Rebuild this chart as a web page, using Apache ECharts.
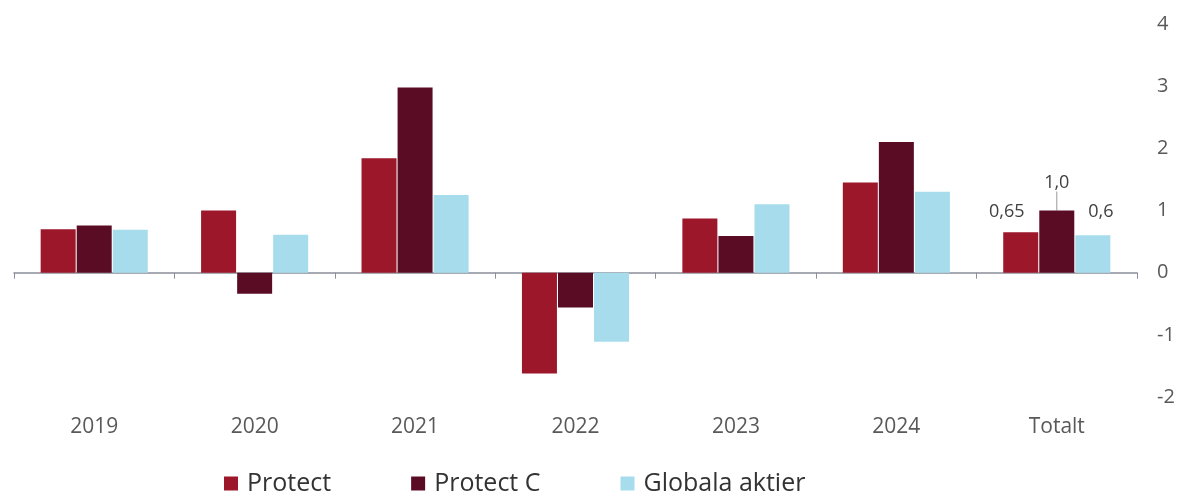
<!DOCTYPE html>
<html>
<head>
<meta charset="utf-8">
<script src="https://cdn.jsdelivr.net/npm/echarts@6/dist/echarts.min.js"></script>
<style>
  html, body { margin: 0; padding: 0; background: #fff; }
  #main { width: 1182px; height: 492px; }
</style>
</head>
<body>
<div id="main"></div>
<script>
// data
const categories = ['2019', '2020', '2021', '2022', '2023', '2024', 'Totalt']
const protect = [0.70, 1.0, 1.84, -1.62, 0.87, 1.45, 0.65]
const protectC = [0.76, -0.34, 2.98, -0.56, 0.59, 2.10, 1.0]
const globala = [0.69, 0.61, 1.25, -1.11, 1.10, 1.30, 0.6]
const totalLabels = ['0,65', '1,0', '0,6']
const yTicks = [-2, -1, 0, 1, 2, 3, 4]

const colors = ['#9b1729', '#5b0c25', '#a6dcec']
const labelColor = '#595959'
const font = '"Open Sans", "Noto Sans", sans-serif'

// only the Totalt column carries value labels
const withTotalLabel = (values, text, labelOpts) =>
  values.map((v, i) =>
    i === values.length - 1
      ? { value: v, label: Object.assign({ show: true, formatter: text }, labelOpts) }
      : v
  )

const barLabel = {
  position: 'top',
  color: '#404040',
  fontSize: 18,
  fontFamily: font
}

const chart = echarts.init(document.getElementById('main'))
const option = {
  backgroundColor: '#fff',
  animation: false,
  color: colors,
  grid: {
    left: 14,
    right: 45,
    top: 24,
    bottom: 95
  },
  legend: {
    left: 219,
    top: 466,
    icon: 'rect',
    itemWidth: 14,
    itemHeight: 14,
    itemGap: 80,
    textStyle: {
      color: '#333',
      fontSize: 25,
      fontFamily: font,
      padding: [0, 0, 0, 4]
    }
  },
  xAxis: [
    {
      type: 'category',
      data: categories,
      position: 'bottom',
      axisLine: { show: false, onZero: false },
      axisTick: { show: false },
      axisLabel: {
        color: labelColor,
        fontSize: 21,
        fontFamily: font,
        margin: 20
      }
    },
    {
      type: 'category',
      data: categories,
      position: 'bottom',
      axisLine: { show: true, onZero: true, lineStyle: { color: '#8a8f99', width: 1.5 } },
      axisTick: { show: true, length: 6, inside: false, lineStyle: { color: '#8a8f99' } },
      axisLabel: { show: false }
    }
  ],
  yAxis: {
    type: 'value',
    position: 'right',
    min: yTicks[0],
    max: yTicks[yTicks.length - 1],
    interval: 1,
    splitLine: { show: false },
    axisLine: { show: false },
    axisTick: { show: false },
    axisLabel: {
      color: labelColor,
      fontSize: 20,
      fontFamily: font,
      margin: 20
    }
  },
  series: [
    {
      name: 'Protect',
      type: 'bar',
      barWidth: 35,
      barGap: '3%',
      data: withTotalLabel(protect, totalLabels[0], Object.assign({}, barLabel, { distance: 11, offset: [-14, 0] }))
    },
    {
      name: 'Protect C',
      type: 'bar',
      barWidth: 35,
      barGap: '3%',
      data: withTotalLabel(protectC, totalLabels[1], Object.assign({}, barLabel, { distance: 3 })),
      labelLayout: { dy: -16 },
      labelLine: { show: true, lineStyle: { color: '#9a9a9a', width: 1 } }
    },
    {
      name: 'Globala aktier',
      type: 'bar',
      barWidth: 35,
      barGap: '3%',
      data: withTotalLabel(globala, totalLabels[2], Object.assign({}, barLabel, { distance: 14, offset: [8, 0] }))
    }
  ]
}
chart.setOption(option)
</script>
</body>
</html>
